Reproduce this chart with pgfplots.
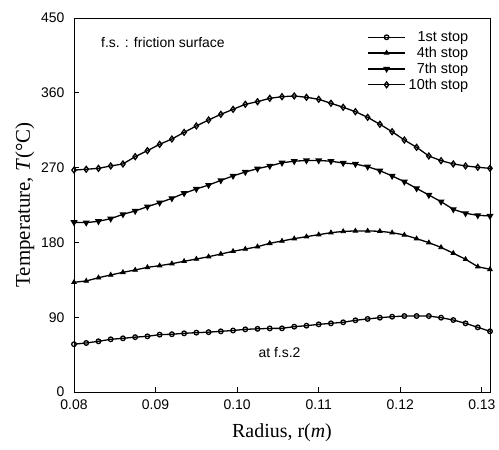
\documentclass[border=0pt]{standalone}
\usepackage{fontspec}
\setmainfont{Liberation Serif}
\newfontfamily\arial{Liberation Sans}
\usepackage{pgfplots}
\pgfplotsset{compat=1.18}
\usepackage{pgfplotstable}

\pgfplotstableread{
r      s1    s4     s7     s10
0.0800 57.5  132.0  204.2  267.0
0.0815 59.0  133.6  203.8  268.0
0.0830 61.0  137.5  205.4  269.1
0.0845 63.4  140.8  208.5  272.0
0.0860 64.6  144.0  213.8  274.4
0.0875 66.0  146.8  217.8  283.1
0.0890 67.0  150.0  223.0  290.4
0.0905 69.0  152.0  227.8  298.0
0.0920 69.5  154.4  233.0  304.4
0.0935 70.6  157.3  239.1  312.4
0.0950 71.4  160.0  244.3  320.1
0.0965 72.0  162.8  249.0  327.3
0.0980 73.0  166.0  254.6  334.1
0.0995 74.0  169.3  260.0  340.1
0.1010 75.4  172.0  264.7  346.2
0.1025 76.0  174.8  268.7  349.3
0.1040 76.5  178.9  272.0  353.4
0.1055 76.6  181.7  275.8  355.3
0.1070 78.6  184.5  277.7  356.2
0.1085 79.8  186.9  278.6  354.6
0.1100 81.4  189.3  278.6  352.2
0.1115 82.6  191.7  277.7  347.4
0.1130 83.9  193.2  275.5  342.6
0.1145 86.3  193.8  274.3  337.3
0.1160 87.9  193.8  271.1  330.5
0.1175 89.4  193.4  266.3  322.1
0.1190 90.6  191.7  260.0  313.2
0.1205 91.4  189.0  253.0  303.2
0.1220 91.4  184.5  245.0  294.4
0.1235 91.4  179.7  237.0  284.0
0.1250 89.4  174.0  229.0  278.3
0.1265 86.6  167.0  219.8  274.4
0.1280 82.6  159.7  215.0  272.0
0.1295 77.8  150.8  212.6  270.4
0.1310 73.0  147.6  211.8  269.1
}\datatab

\begin{document}
\begin{tikzpicture}
\path (-74bp,-58bp) rectangle (425bp,392bp);
\begin{axis}[
  at={(0,0)}, anchor=south west,
  scale only axis,
  width=416bp, height=374bp,
  xmin=0.08, xmax=0.131,
  ymin=0, ymax=450,
  xtick={0.08,0.09,...,0.13},
  ytick={0,90,...,450},
  xticklabels={0.08,0.09,0.10,0.11,0.12,0.13},
  tick align=inside,
  xtick pos=bottom, ytick pos=left,
  major tick length=5bp,
  tick style={black, line width=0.8pt},
  axis line style={line width=1pt},
  /pgf/number format/assume math mode=true,
  ticklabel style={font=\arial\fontsize{14}{16}\selectfont},
  xticklabel style={yshift=-4bp},
  yticklabel style={xshift=-6bp},
  xlabel={Radius, r(\textit{m})},
  ylabel={Temperature, \textit{T}(°C)},
  xlabel style={font=\fontsize{20}{22}\selectfont, yshift=-7bp},
  ylabel style={font=\fontsize{21}{23}\selectfont, yshift=0bp},
  legend style={at={(rel axis cs:0.96,0.975)}, anchor=north east,
    draw=none, fill=none, font=\arial\fontsize{14.5}{16}\selectfont,
    row sep=0bp, /tikz/every odd column/.append style={column sep=1bp}},
  legend cell align=right,
  legend image code/.code={
    \draw[mark repeat=2,mark phase=2,#1] plot coordinates {(0bp,0bp) (18.5bp,0bp) (37bp,0bp)};},
  every axis plot/.append style={black, line width=1.3pt, mark size=2.3bp,
    mark options={solid, line width=0.8pt}},
]
\addplot[mark=o, mark options={fill=white}] table[x=r,y=s1] {\datatab};
\addlegendentry{1st stop}
\addplot[mark=triangle*, mark size=2.6bp] table[x=r,y=s4] {\datatab};
\addlegendentry{4th stop}
\addplot[mark=triangle*, mark size=2.8bp, mark options={rotate=180}] table[x=r,y=s7] {\datatab};
\addlegendentry{7th stop}
\addplot[mark=diamond, mark size=2.9bp, mark options={fill=white}] table[x=r,y=s10] {\datatab};
\addlegendentry{10th stop}
\node[anchor=west, font=\arial\fontsize{14}{16}\selectfont] at (axis cs:0.0829,421) {f.s. : friction surface};
\node[anchor=west, font=\arial\fontsize{14}{16}\selectfont] at (axis cs:0.1022,48) {at f.s.2};
\end{axis}
\end{tikzpicture}
\end{document}
